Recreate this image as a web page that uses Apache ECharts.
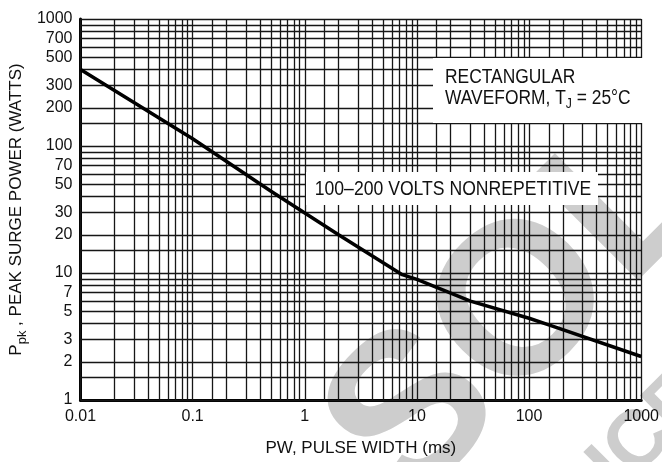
<!DOCTYPE html>
<html>
<head>
<meta charset="utf-8">
<script src="https://cdn.jsdelivr.net/npm/echarts@6/dist/echarts.min.js"></script>
<style>
  html, body { margin: 0; padding: 0; background: #fff; }
  #main { width: 662px; height: 462px; }
</style>
</head>
<body>
<div id="main"></div>
<script>
  // curve (ms, watts)
  var pulseWidth = [0.01, 0.1, 0.5, 2, 7.4, 10, 30, 100, 150, 1000];
  var peakPower = [400, 114, 44, 20, 9.7, 8.9, 6.0, 4.4, 3.9, 2.2];

  // log paper grid: steps inside each decade
  var decadeSteps = [1, 1.5, 2, 3, 4, 5, 6, 7, 8, 9];
  var xDecades = [-2, -1, 0, 1, 2];
  var yDecades = [0, 1, 2];
  var yTickLabels = [1000, 700, 500, 300, 200, 100, 70, 50, 30, 20, 10, 7, 5, 3, 2, 1];

  var FONT = '"Liberation Sans", Arial, sans-serif';

  function gridValues(decades, top) {
    var out = [];
    decades.forEach(function (e) {
      decadeSteps.forEach(function (m) {
        out.push(Number((m * Math.pow(10, e)).toPrecision(3)));
      });
    });
    out.push(top);
    return out;
  }

  var xGrid = gridValues(xDecades, 1000).map(function (v) { return {xAxis: v}; });
  var yGrid = gridValues(yDecades, 1000).map(function (v) {
    var item = {yAxis: v};
    if (yTickLabels.indexOf(v) >= 0) {
      item.label = {
        show: true, position: 'start', distance: 8, formatter: String(v),
        color: '#111', fontSize: 16, fontFamily: FONT
      };
    }
    return item;
  });

  var gridLine = {color: '#161616', width: 1.3, type: 'solid'};

  var chart = echarts.init(document.getElementById('main'));
  chart.setOption({
    animation: false,
    grid: {left: 80, right: 4, top: 19, bottom: 62},
    xAxis: {
      type: 'log', logBase: 10, min: 0.01, max: 1000, splitNumber: 5,
      name: 'PW, PULSE WIDTH (ms)', nameLocation: 'middle', nameGap: 40,
      nameTextStyle: {fontSize: 17, color: '#111', fontFamily: FONT},
      axisLine: {lineStyle: {color: '#000', width: 3}},
      axisTick: {show: false},
      splitLine: {show: false},
      axisLabel: {
        fontSize: 16, color: '#111', margin: 9, fontFamily: FONT,
        formatter: function (v) { return String(v); }
      }
    },
    yAxis: {
      type: 'log', logBase: 10, min: 1, max: 1000,
      name: '{a|P}{s|pk}{a| , PEAK SURGE POWER (WATTS)}',
      nameLocation: 'middle', nameGap: 52,
      nameTextStyle: {
        color: '#111', fontFamily: FONT,
        rich: {
          a: {fontSize: 17, color: '#111', fontFamily: FONT},
          s: {fontSize: 13, color: '#111', fontFamily: FONT, padding: [11, 0, 0, 0]}
        }
      },
      axisLine: {show: true, lineStyle: {color: '#000', width: 3}},
      axisTick: {show: false},
      splitLine: {show: false},
      axisLabel: {show: false}
    },
    graphic: [
      // faint watermark behind the grid
      {
        type: 'text', z: -10, silent: true,
        x: 522, y: 312, rotation: Math.PI / 4,
        style: {
          text: 'SOL', fill: '#cdcdcd', font: 'bold 216px "Liberation Sans", sans-serif',
          align: 'center', verticalAlign: 'middle'
        }
      },
      {
        type: 'text', z: -10, silent: true,
        x: 650, y: 432, rotation: Math.PI / 4,
        style: {
          text: 'ICE', fill: '#cdcdcd', font: 'bold 80px "Liberation Sans", sans-serif',
          align: 'center', verticalAlign: 'middle'
        }
      },
      {
        type: 'rect', z: 20, silent: true,
        shape: {x: 433, y: 58, width: 222, height: 65},
        style: {fill: '#fff'}
      },
      {
        type: 'text', z: 21, silent: true,
        x: 445, y: 67, scaleX: 0.87, originX: 0, originY: 0,
        style: {
          text: '{n|RECTANGULAR}\n{n|WAVEFORM, T}{s|J}{n| = 25°C}',
          rich: {
            n: {fontSize: 20, fontFamily: FONT, fill: '#111', lineHeight: 21},
            s: {fontSize: 14, fontFamily: FONT, fill: '#111', lineHeight: 21, padding: [12, 0, 0, 0]}
          }
        }
      },
      {
        type: 'rect', z: 20, silent: true,
        shape: {x: 306, y: 172, width: 292, height: 33},
        style: {fill: '#fff'}
      },
      {
        type: 'text', z: 21, silent: true,
        x: 453, y: 189, scaleX: 0.88, originX: 0, originY: 0,
        style: {
          text: '100–200 VOLTS NONREPETITIVE', fill: '#111',
          font: '20px ' + FONT, align: 'center', verticalAlign: 'middle'
        }
      }
    ],
    series: [
      {
        type: 'line', data: [], silent: true, z: 1,
        markLine: {
          silent: true, symbol: ['none', 'none'], z: 1, animation: false,
          lineStyle: gridLine, label: {show: false},
          emphasis: {disabled: true},
          data: xGrid.concat(yGrid)
        }
      },
      {
        type: 'line', name: 'Ppk', z: 5,
        symbol: 'none',
        lineStyle: {color: '#000', width: 3.5},
        data: pulseWidth.map(function (x, i) { return [x, peakPower[i]]; })
      }
    ]
  });
</script>
</body>
</html>
